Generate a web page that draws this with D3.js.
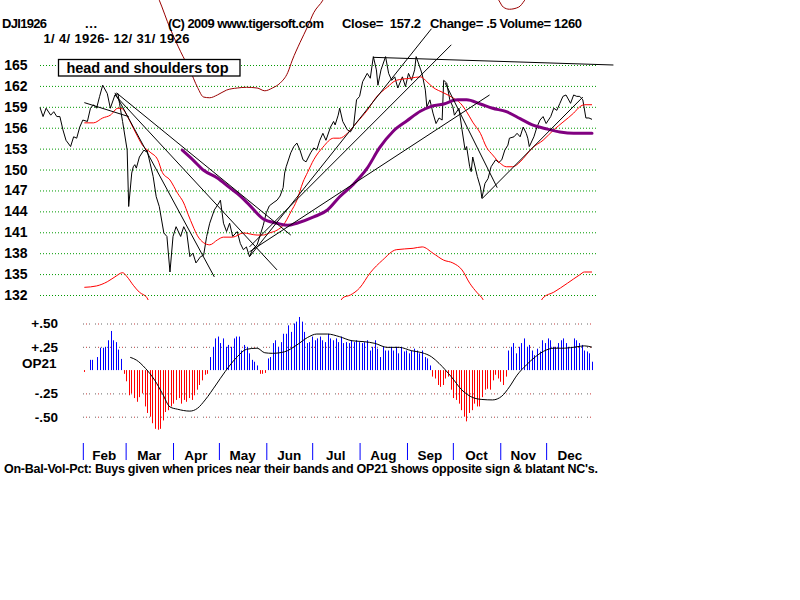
<!DOCTYPE html>
<html>
<head>
	<meta charset="utf-8">
	<title>DJI1926</title>
	<script src="https://d3js.org/d3.v7.min.js"></script>
	<style>
		html, body {
			margin: 0;
			background: #fff;
		}
		svg { display: block; }
		text {
			font-family: Arial, "Liberation Sans", sans-serif;
			font-weight: bold;
			fill: #000;
		}
	</style>
</head>
<body>
	<svg id="svg"></svg>
	<script>
		// daily closes, as calendar days after 4 Jan 1926
		const priceDay = [0,2,4,7,9,11,13,15,17,20,
			22,24,26,28,31,33,35,37,39,41,
			44,46,49,51,52,54,57,58,60,61,
			62,63,65,68,69,70,72,74,76,78,
			81,83,85,87,89,92,94,96,98,100,
			102,105,107,109,111,114,117,118,120,122,
			124,126,129,131,133,135,137,139,142,144,
			146,148,150,153,155,157,159,160,161,164,
			166,168,170,172,174,177,179,181,183,185,
			187,190,192,193,195,196,198,201,203,205,
			207,209,211,214,216,218,220,221,223,226,
			228,230,232,234,237,239,241,243,245,246,
			249,250,252,253,255,257,259,261,263,264,
			266,268,270,271,274,276,278,279,281,282,
			283,286,288,289,291,293,295,298,300,302,
			304,306,307,310,312,314,316,318,319,320,
			323,325,327,329,331,334,336,338,340,342,
			344,347,349,351,353,355,357,359,361];
		const priceClose = [158.9,157.6,158.8,157.8,158.3,157.6,157.6,155.7,154.2,153.3,
			154.7,154.5,156.1,157.1,156.9,158.8,159.3,158.8,160.5,162.1,
			160.9,158.8,160.7,160.9,159.5,156.9,152.8,144.7,149.5,150.4,
			150.7,150.2,151.8,152.8,152.6,152.8,150.9,149.0,146.1,144.7,
			140.9,140.4,135.3,140.4,141.8,140.4,141.8,140.9,137.5,138.0,
			136.6,137.5,137.7,140.4,142.3,144.2,145.2,145.6,142.3,141.1,
			142.3,140.4,141.1,139.4,138.5,138.9,137.5,138.5,139.2,140.6,
			142.0,143.8,144.8,145.3,145.6,146.2,147.4,149.5,150.4,152.4,
			153.3,153.8,152.8,151.4,151.1,152.4,153.1,152.8,154.2,155.2,
			154.2,156.1,156.9,156.4,157.8,158.8,156.9,155.7,155.4,156.1,
			160.0,160.5,162.6,163.8,163.1,166.2,164.3,162.1,164.3,166.2,
			163.8,162.8,163.3,161.7,163.3,161.9,163.8,162.8,164.3,166.2,
			164.3,163.6,161.4,159.0,160.0,158.1,156.6,157.4,157.1,162.8,
			162.4,160.0,159.0,157.8,158.8,155.7,152.8,153.3,150.4,149.7,
			151.8,149.0,147.5,145.9,148.0,148.7,150.4,151.4,151.0,151.4,
			152.8,153.5,154.5,154.7,155.2,154.7,156.1,155.2,154.5,153.3,
			154.7,156.1,157.1,157.6,156.6,157.6,158.8,158.5,159.5,160.5,
			160.7,159.5,160.7,160.5,160.5,160.0,157.4,157.4,157.2];

		// 21-day average (red)
		const maDay = [29,35,41,46,51,54,57,60,63,67,72,77,80,85,90,94,97,100,103,107,
			111,116,120,126,133,142,146,150,155,159,164,168,172,175,179,185,192,196,201,207,
			214,220,227,233,242,249,253,257,264,270,275,279,283,288,292,296,301,305,309,314,
			318,322,329,336,342,349,353,356,361];
		const maValue = [156.7,156.7,157.4,157.8,158.8,158.7,157.7,156.4,155.1,153.5,
			152.5,151.4,149.6,148.5,146.6,145.2,143.5,141.9,140.5,139.5,
			139.2,139.9,140.3,140.3,140.9,140.6,140.6,140.9,141.3,142.0,
			143.9,145.6,148.2,149.6,151.4,153.2,154.5,154.5,155.2,156.7,
			158.5,160.4,161.8,162.8,163.1,163.3,162.6,161.8,161.0,160.3,
			159.5,158.3,156.8,155.2,153.2,152.1,150.9,150.4,150.4,151.1,
			152.1,153.1,154.2,155.7,156.8,158.1,159.0,159.3,159.3];

		// long average (purple)
		const lmaDay = [93,100,107,116,124,131,137,146,155,162,168,179,188,196,205,214,222,
			231,240,249,255,264,273,279,288,296,305,314,322,332,340,349,361];
		const lmaValue = [152.8,151.4,149.9,148.8,147.4,146.2,144.9,142.9,142.3,142.0,142.3,
			143.2,144.2,146.1,147.9,150.2,153.1,155.5,157.0,158.4,159.0,159.4,160.0,160.0,
			159.4,158.8,158.3,157.3,156.4,155.8,155.4,155.2,155.2];

		// bands
		const upperDay = [65,78,85,92,98,103,107,111,116,122,129,135,142,147,152,157,162,165,
			170,175,179,185,196,249,288,300,303,307,313,317,327,361];
		const upperValue = [180.1,174.3,170.3,166.9,164.3,161.8,160.4,160.3,160.7,161.4,
			161.7,161.8,161.7,161.3,161.7,162.4,163.9,165.7,168.2,170.5,
			172.5,174.3,180.1,183.0,177.9,174.3,173.3,173.0,173.3,174.3,178.6,183.0];
		const lowerDay = [29,37,44,49,54,57,61,65,70,78,137,190,198,203,209,216,224,233,244,
			250,257,264,270,276,281,286,289,298,320,329,336,345,353,356,361];
		const lowerValue = [133.1,133.3,133.9,134.6,135.2,134.6,133.4,132.4,131.6,127.0,
			122.7,127.0,131.6,132.0,133.0,135.2,137.0,138.5,138.7,138.9,
			138.0,137.0,136.6,135.6,133.7,132.3,131.6,127.0,127.0,131.6,
			132.4,133.7,134.9,135.3,135.3];

		// hand-drawn trend lines: [day1, price1, day2, price2]
		const trendLines = [
			[29, 159.6, 58, 157.6],
			[49, 161.0, 114.5, 134.6],
			[49, 160.7, 155, 135.6],
			[50, 161.0, 164, 140.6],
			[137, 137.5, 256, 170.2],
			[137, 138.9, 269, 167.9],
			[137, 138.2, 294, 160.7],
			[218, 166.1, 375, 165.0],
			[265.5, 162.4, 299, 147.4],
			[289, 145.8, 355, 160.4]
		];

		// OP21 histogram, evenly spaced from 2 Feb to 31 Dec
		const op21Bars = [
			-0.02,0,0.11,0.11,0,0.14,0.24,0.24,0.25,0.32,0.42,0.32,0.30,0.22,0.12,
			-0.04,-0.12,-0.27,-0.25,-0.30,-0.34,-0.29,-0.25,-0.39,-0.46,-0.50,-0.57,-0.63,-0.64,-0.63,
			-0.54,-0.45,-0.43,-0.39,-0.36,-0.32,-0.30,-0.36,-0.32,-0.34,-0.30,-0.32,-0.27,-0.21,-0.16,
			-0.11,-0.05,-0.04,
			0.14,0.25,0.34,0.36,0.29,0.34,0.25,0.27,0.25,0.34,0.36,0.36,0.21,0.27,0.25,0.18,0.11,0.09,0.05,
			-0.04,-0.04,-0.03,
			0.125,0.14,0.29,0.32,0.25,0.30,0.39,0.39,0.48,0.41,0.50,0.52,0.57,0.52,0.41,0.29,0.30,
			0.36,0.32,0.34,0.36,0.32,0.30,0.39,0.34,0.32,0.34,0.30,0.36,0.29,0.30,0.29,0.32,
			0.30,0.32,0.30,0.29,0.30,0.32,0.21,0.25,0.32,0.23,0.14,0.25,0.21,0.21,0.25,
			0.21,0.25,0.18,0.25,0.20,0.21,0.18,0.21,0.23,0.21,0.18,0.21,0.14,0.125,0.05,
			-0.07,-0.09,-0.16,-0.18,-0.16,-0.09,-0.07,-0.21,-0.30,-0.32,-0.36,-0.43,-0.50,-0.55,-0.46,
			-0.43,-0.36,-0.39,-0.39,-0.29,-0.21,-0.20,-0.21,-0.11,-0.05,-0.09,-0.125,-0.16,-0.07,
			0.21,0.25,0.29,0.18,0.25,0.29,0.34,0.25,0.27,0.21,0.16,0.23,0.20,0.32,0.29,0.34,0.32,
			0.25,0.25,0.29,0.32,0.34,0.29,0.25,0.25,0.34,0.32,0.29,0.27,0.21,0.20,0.18,0.09
		];
		const opLineDay = [59,63,69,75,80,85,90,98,103,108,115,121,129,135,142,147,152,160,168,175,
			181,188,196,204,212,219,227,235,243,250,256,261,269,276,283,289,296,302,307,312,
			318,324,331,336,343,351,356,361];
		const opLineValue = [0.137,0.108,0.018,-0.108,-0.25,-0.395,-0.42,-0.44,-0.41,-0.32,
			-0.16,-0.018,0.143,0.223,0.235,0.186,0.18,0.197,0.27,0.35,
			0.387,0.387,0.358,0.315,0.305,0.287,0.244,0.244,0.208,0.186,
			0.143,0.072,-0.072,-0.215,-0.294,-0.315,-0.32,-0.28,-0.18,-0.054,
			0.054,0.143,0.215,0.235,0.235,0.25,0.26,0.246];

		const priceTicks = [132,135,138,141,144,147,150,153,156,159,162,165];
		const opTicks = [0.5, 0.25, -0.25, -0.5];
		const opTickLabels = ["+.50", "+.25", "-.25", "-.50"];
		const monthLabels = ["Feb","Mar","Apr","May","Jun","Jul","Aug","Sep","Oct","Nov","Dec"];

		const startDate = new Date(1926, 0, 4);
		const endDate = new Date(1926, 11, 31);
		const barStart = new Date(1926, 1, 2);
		const day = d => d3.timeDay.offset(startDate, d);

		const svg = d3.select("#svg")
		.attr("width", 800)
		.attr("height", 600);

		svg.append("rect").attr("width", 800).attr("height", 600).attr("fill", "#fff");

		const x = d3.scaleTime().domain([startDate, endDate]).range([40, 592]);
		const y = d3.scaleLinear().domain([132, 165]).range([295, 65]);
		const yOp = d3.scaleLinear().domain([-0.5, 0.5]).range([416.7, 323.5]);

		svg.append("clipPath").attr("id", "pricePanel")
		.append("rect").attr("x", 0).attr("y", 0).attr("width", 800).attr("height", 300);

		// price grid
		svg.append("g")
		.attr("transform", "translate(40,0)")
		.call(d3.axisRight(y).tickValues(priceTicks).tickSize(558).tickFormat(""))
		.call(g => g.select(".domain").remove())
		.call(g => g.selectAll("line")
			.attr("stroke", "#009a00")
			.attr("stroke-dasharray", "1,2"));

		svg.append("g")
		.attr("transform", "translate(27.5,0)")
		.call(d3.axisLeft(y).tickValues(priceTicks).tickSize(0).tickPadding(0))
		.attr("font-family", null)
		.attr("font-size", 14)
		.call(g => g.select(".domain").remove());

		const line = d3.line()
		.x(d => x(day(d[0])))
		.y(d => y(d[1]));
		const smooth = d3.line()
		.curve(d3.curveMonotoneX)
		.x(d => x(day(d[0])))
		.y(d => y(d[1]));

		const panel = svg.append("g").attr("clip-path", "url(#pricePanel)");

		panel.append("path")
		.attr("fill", "none").attr("stroke", "#990000").attr("stroke-width", 1)
		.attr("d", smooth(d3.zip(upperDay, upperValue)));

		panel.append("path")
		.attr("fill", "none").attr("stroke", "#ff0000").attr("stroke-width", 1)
		.attr("d", smooth(d3.zip(lowerDay, lowerValue)));

		panel.append("path")
		.attr("fill", "none").attr("stroke", "#000").attr("stroke-width", 1)
		.attr("d", line(d3.zip(priceDay, priceClose)));

		svg.selectAll(".trend")
		.data(trendLines)
		.enter()
		.append("line")
		.attr("class", "trend")
		.attr("x1", d => x(day(d[0])))
		.attr("y1", d => y(d[1]))
		.attr("x2", d => x(day(d[2])))
		.attr("y2", d => y(d[3]))
		.attr("stroke", "#000")
		.attr("stroke-width", 1);

		panel.append("path")
		.attr("fill", "none").attr("stroke", "#ff0000").attr("stroke-width", 1)
		.attr("d", smooth(d3.zip(maDay, maValue)));

		panel.append("path")
		.attr("fill", "none").attr("stroke", "#800080").attr("stroke-width", 3)
		.attr("stroke-linecap", "round")
		.attr("d", smooth(d3.zip(lmaDay, lmaValue)));

		// annotation box
		svg.append("rect")
		.attr("x", 58.5).attr("y", 59.5).attr("width", 181.5).attr("height", 16.5)
		.attr("fill", "#fff").attr("stroke", "#000").attr("stroke-width", 1.3);
		svg.append("text")
		.attr("x", 66.5).attr("y", 72.5)
		.attr("font-size", 14.5)
		.attr("textLength", 162)
		.text("head and shoulders top");

		// header
		const header = [
			["DJI1926", 2, 27.5, 45],
			["...", 85, 27.5, 12],
			["(C) 2009 www.tigersoft.com", 168, 27.5, 156],
			["Close=  157.2", 342, 27.5, 79],
			["Change= .5 Volume= 1260", 430, 27.5, 152],
			["1/ 4/ 1926- 12/ 31/ 1926", 43.5, 43, 146]
		];
		svg.selectAll(".head")
		.data(header)
		.enter()
		.append("text")
		.attr("class", "head")
		.attr("x", d => d[1])
		.attr("y", d => d[2])
		.attr("font-size", 13)
		.attr("textLength", d => d[3])
		.attr("xml:space", "preserve")
		.text(d => d[0]);

		// OP21 panel
		svg.append("g")
		.attr("transform", "translate(83,0)")
		.call(d3.axisRight(yOp).tickValues(opTicks).tickSize(509).tickFormat(""))
		.call(g => g.select(".domain").remove())
		.call(g => g.selectAll("line").attr("stroke", "#666").attr("stroke-dasharray", "1,5"));
		svg.append("g")
		.attr("transform", "translate(83,0)")
		.call(d3.axisRight(yOp).tickValues(opTicks).tickSize(509).tickFormat(""))
		.call(g => g.select(".domain").remove())
		.call(g => g.selectAll("line").attr("stroke", "#cc3333")
			.attr("stroke-dasharray", "1,11").attr("stroke-dashoffset", -3));

		svg.append("g")
		.attr("transform", "translate(58,0)")
		.call(d3.axisLeft(yOp).tickValues(opTicks).tickSize(0).tickPadding(0)
			.tickFormat((d, i) => opTickLabels[i]))
		.attr("font-family", null)
		.attr("font-size", 13.5)
		.call(g => g.select(".domain").remove());

		svg.append("text")
		.attr("x", 22).attr("y", 368)
		.attr("font-size", 13.5)
		.text("OP21");

		const xb = d3.scalePoint()
		.domain(d3.range(op21Bars.length))
		.range([x(barStart), x(endDate)]);

		svg.append("g")
		.selectAll("line")
		.data(op21Bars.map((v, i) => [i, v]).filter(d => d[1] !== 0))
		.enter()
		.append("line")
		.attr("x1", d => Math.round(xb(d[0])) + 0.5)
		.attr("x2", d => Math.round(xb(d[0])) + 0.5)
		.attr("y1", yOp(0))
		.attr("y2", d => yOp(d[1]))
		.attr("stroke", d => d[1] > 0 ? "#0000ff" : "#ff0000")
		.attr("stroke-width", 1);

		const opLine = d3.line()
		.curve(d3.curveMonotoneX)
		.x(d => x(day(d[0])))
		.y(d => yOp(d[1]));

		svg.append("path")
		.attr("fill", "none").attr("stroke", "#000").attr("stroke-width", 1)
		.attr("d", opLine(d3.zip(opLineDay, opLineValue)));

		// month axis
		const monthStarts = d3.timeMonth.range(new Date(1926, 1, 1), new Date(1927, 0, 1));
		svg.append("g")
		.attr("transform", "translate(0,443)")
		.call(d3.axisBottom(x).tickValues(monthStarts).tickSize(17).tickFormat(""))
		.call(g => g.select(".domain").remove())
		.call(g => g.selectAll("line").attr("stroke", "#0000ff"));

		svg.selectAll(".month")
		.data(monthStarts)
		.enter()
		.append("text")
		.attr("class", "month")
		.attr("x", (d, i) => (x(d) + x(d3.timeMonth.offset(d, 1))) / 2)
		.attr("y", 460)
		.attr("text-anchor", "middle")
		.attr("font-size", 13.5)
		.text((d, i) => monthLabels[i]);

		svg.append("text")
		.attr("x", 4).attr("y", 473)
		.attr("font-size", 12.5)
		.attr("textLength", 594)
		.text("On-Bal-Vol-Pct: Buys given when prices near their bands and OP21 shows opposite sign & blatant NC's.");
	</script>
</body>
</html>
